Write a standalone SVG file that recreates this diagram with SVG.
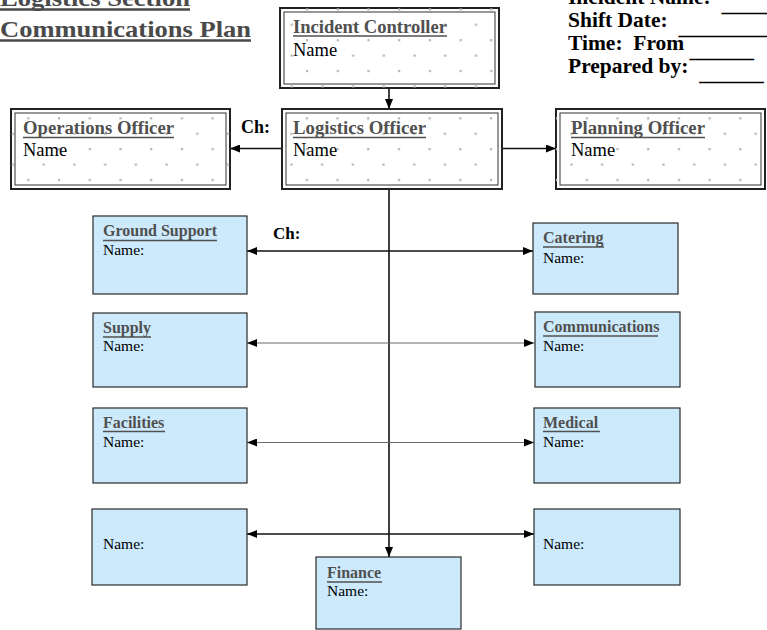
<svg xmlns="http://www.w3.org/2000/svg" width="767" height="630" viewBox="0 0 767 630">
  <style>
    text { font-family: "Liberation Serif", "Times New Roman", serif; }
    .title { font-size: 23px; font-weight: bold; fill: #4a4a4a; }
    .hdr { font-size: 21.5px; font-weight: bold; fill: #000; white-space: pre; }
    .ohead { font-size: 18.5px; font-weight: bold; fill: #505050; }
    .oname { font-size: 18.5px; fill: #000; }
    .bhead { font-size: 16px; font-weight: bold; fill: #505050; }
    .bname { font-size: 15.5px; fill: #000; }
    .ch { font-weight: bold; fill: #000; }
    .uline { stroke: #505050; stroke-width: 1.7; }
    .tline { stroke: #4a4a4a; stroke-width: 2.4; }
    .outer { fill: #fff; stroke: #222; stroke-width: 2; }
    .inner { fill: none; stroke: #333; stroke-width: 1; }
    .blue { fill: #cdeafc; stroke: #2a2a2a; stroke-width: 1.2; }
    .link { fill: none; stroke: #111; stroke-width: 1.6; }
    .link-thin { fill: none; stroke: #6a6a6a; stroke-width: 1.1; }
  </style>
  <defs>
    <marker id="arrow" viewBox="0 0 10 8" refX="10" refY="4" markerWidth="10" markerHeight="8" markerUnits="userSpaceOnUse" orient="auto-start-reverse">
      <path d="M0,0 L10,4 L0,8 Z" fill="#000"/>
    </marker>
    <!-- dotted fill for the officer boxes, one origin per box -->
    <pattern id="dotsIC" patternUnits="userSpaceOnUse" x="306" y="8.3" width="30.7" height="30.8">
      <rect x="0" y="0" width="2.2" height="2.2" fill="#b4b4b4"/>
      <rect x="15.35" y="15.4" width="2.2" height="2.2" fill="#b4b4b4"/>
    </pattern>
    <pattern id="dotsLO" patternUnits="userSpaceOnUse" x="305.7" y="117.3" width="30.7" height="30.8">
      <rect x="0" y="0" width="2.2" height="2.2" fill="#b4b4b4"/>
      <rect x="15.35" y="15.4" width="2.2" height="2.2" fill="#b4b4b4"/>
    </pattern>
    <pattern id="dotsOO" patternUnits="userSpaceOnUse" x="27.3" y="117.3" width="30.7" height="30.8">
      <rect x="0" y="0" width="2.2" height="2.2" fill="#b4b4b4"/>
      <rect x="15.35" y="15.4" width="2.2" height="2.2" fill="#b4b4b4"/>
    </pattern>
    <pattern id="dotsPO" patternUnits="userSpaceOnUse" x="585.7" y="117.3" width="30.7" height="30.8">
      <rect x="0" y="0" width="2.2" height="2.2" fill="#b4b4b4"/>
      <rect x="15.35" y="15.4" width="2.2" height="2.2" fill="#b4b4b4"/>
    </pattern>
  </defs>

  <rect width="767" height="630" fill="#fff"/>

  <!-- page title -->
  <g id="title">
    <text class="title" x="0" y="6" textLength="190" lengthAdjust="spacingAndGlyphs">Logistics Section</text>
    <line class="tline" x1="0" y1="9.5" x2="190" y2="9.5"/>
    <text class="title" x="0" y="36.5" textLength="251" lengthAdjust="spacingAndGlyphs">Communications Plan</text>
    <line class="tline" x1="0" y1="40.5" x2="251" y2="40.5"/>
  </g>

  <!-- form header fields -->
  <g id="header">
    <text class="hdr" x="568" y="3.5">Incident Name:  <tspan dy="7">________</tspan></text>
    <text class="hdr" x="568" y="26.5">Shift Date:  <tspan dy="7">__________</tspan></text>
    <text class="hdr" x="568" y="50">Time:  From <tspan dy="7">______</tspan></text>
    <text class="hdr" x="568" y="73">Prepared by:  <tspan dy="7">______</tspan></text>
  </g>

  <!-- connectors -->
  <g id="connectors">
    <line class="link" x1="389" y1="88" x2="389" y2="109" marker-end="url(#arrow)"/>
    <line class="link" x1="282" y1="148.5" x2="230" y2="148.5" marker-end="url(#arrow)"/>
    <line class="link" x1="502" y1="148.5" x2="556" y2="148.5" marker-end="url(#arrow)"/>
    <line class="link" x1="389" y1="189" x2="389" y2="557" marker-end="url(#arrow)"/>
    <line class="link" x1="247" y1="251" x2="533" y2="251" marker-start="url(#arrow)" marker-end="url(#arrow)"/>
    <line class="link-thin" x1="247" y1="343" x2="534" y2="343" marker-start="url(#arrow)" marker-end="url(#arrow)"/>
    <line class="link-thin" x1="247" y1="442.5" x2="534" y2="442.5" marker-start="url(#arrow)" marker-end="url(#arrow)"/>
    <line class="link" x1="247" y1="534" x2="534" y2="534" marker-start="url(#arrow)" marker-end="url(#arrow)"/>
  </g>

  <!-- officer boxes (double border, dotted fill) -->
  <g id="incident-controller">
    <rect class="outer" x="280" y="8" width="219" height="80"/>
    <rect x="280" y="8" width="219" height="80" fill="url(#dotsIC)"/>
    <rect class="inner" x="284" y="12" width="211" height="72"/>
    <text class="ohead" x="293" y="33" textLength="154" lengthAdjust="spacingAndGlyphs">Incident Controller</text>
    <line class="uline" x1="293" y1="36" x2="447" y2="36"/>
    <text class="oname" x="293" y="55.5">Name</text>
  </g>

  <g id="operations-officer">
    <rect class="outer" x="11" y="109" width="219" height="80"/>
    <rect x="11" y="109" width="219" height="80" fill="url(#dotsOO)"/>
    <rect class="inner" x="15" y="113" width="211" height="72"/>
    <text class="ohead" x="23" y="134" textLength="151" lengthAdjust="spacingAndGlyphs">Operations Officer</text>
    <line class="uline" x1="23" y1="137.5" x2="174" y2="137.5"/>
    <text class="oname" x="23" y="156">Name</text>
  </g>
  <text class="ch" x="241" y="133" font-size="18">Ch:</text>

  <g id="logistics-officer">
    <rect class="outer" x="282" y="109" width="220" height="80"/>
    <rect x="282" y="109" width="220" height="80" fill="url(#dotsLO)"/>
    <rect class="inner" x="286" y="113" width="212" height="72"/>
    <text class="ohead" x="293" y="134" textLength="133" lengthAdjust="spacingAndGlyphs">Logistics Officer</text>
    <line class="uline" x1="293" y1="137.5" x2="426" y2="137.5"/>
    <text class="oname" x="293" y="156">Name</text>
  </g>

  <g id="planning-officer">
    <rect class="outer" x="556" y="109" width="209" height="80"/>
    <rect x="556" y="109" width="209" height="80" fill="url(#dotsPO)"/>
    <rect class="inner" x="560" y="113" width="201" height="72"/>
    <text class="ohead" x="571" y="134" textLength="134" lengthAdjust="spacingAndGlyphs">Planning Officer</text>
    <line class="uline" x1="571" y1="137.5" x2="705" y2="137.5"/>
    <text class="oname" x="571" y="156">Name</text>
  </g>

  <!-- unit boxes -->
  <g id="ground-support">
    <rect class="blue" x="93" y="216" width="154" height="78"/>
    <text class="bhead" x="103" y="236">Ground Support</text>
    <line class="uline" x1="103" y1="240.5" x2="217" y2="240.5"/>
    <text class="bname" x="103" y="255">Name:</text>
  </g>
  <text class="ch" x="273" y="239" font-size="17">Ch:</text>

  <g id="catering">
    <rect class="blue" x="533" y="223" width="145" height="71"/>
    <text class="bhead" x="543" y="243">Catering</text>
    <line class="uline" x1="543" y1="247" x2="604" y2="247"/>
    <text class="bname" x="543" y="262.5">Name:</text>
  </g>

  <g id="supply">
    <rect class="blue" x="93" y="313" width="154" height="74"/>
    <text class="bhead" x="103" y="333">Supply</text>
    <line class="uline" x1="103" y1="337" x2="151" y2="337"/>
    <text class="bname" x="103" y="351">Name:</text>
  </g>

  <g id="communications">
    <rect class="blue" x="535" y="312" width="145" height="75"/>
    <text class="bhead" x="543" y="332">Communications</text>
    <line class="uline" x1="543" y1="336" x2="658" y2="336"/>
    <text class="bname" x="543" y="351">Name:</text>
  </g>

  <g id="facilities">
    <rect class="blue" x="93" y="408" width="154" height="75"/>
    <text class="bhead" x="103" y="427.5">Facilities</text>
    <line class="uline" x1="103" y1="431.5" x2="165" y2="431.5"/>
    <text class="bname" x="103" y="447">Name:</text>
  </g>

  <g id="medical">
    <rect class="blue" x="534" y="408" width="146" height="75"/>
    <text class="bhead" x="543" y="427.5">Medical</text>
    <line class="uline" x1="543" y1="431.5" x2="600" y2="431.5"/>
    <text class="bname" x="543" y="447">Name:</text>
  </g>

  <g id="unit-left-4">
    <rect class="blue" x="92" y="509" width="155" height="76"/>
    <text class="bname" x="103" y="549">Name:</text>
  </g>

  <g id="unit-right-4">
    <rect class="blue" x="534" y="509" width="146" height="76"/>
    <text class="bname" x="543" y="549">Name:</text>
  </g>

  <g id="finance">
    <rect class="blue" x="316" y="557" width="145" height="72"/>
    <text class="bhead" x="327" y="578">Finance</text>
    <line class="uline" x1="327" y1="582" x2="382" y2="582"/>
    <text class="bname" x="327" y="596">Name:</text>
  </g>
</svg>
